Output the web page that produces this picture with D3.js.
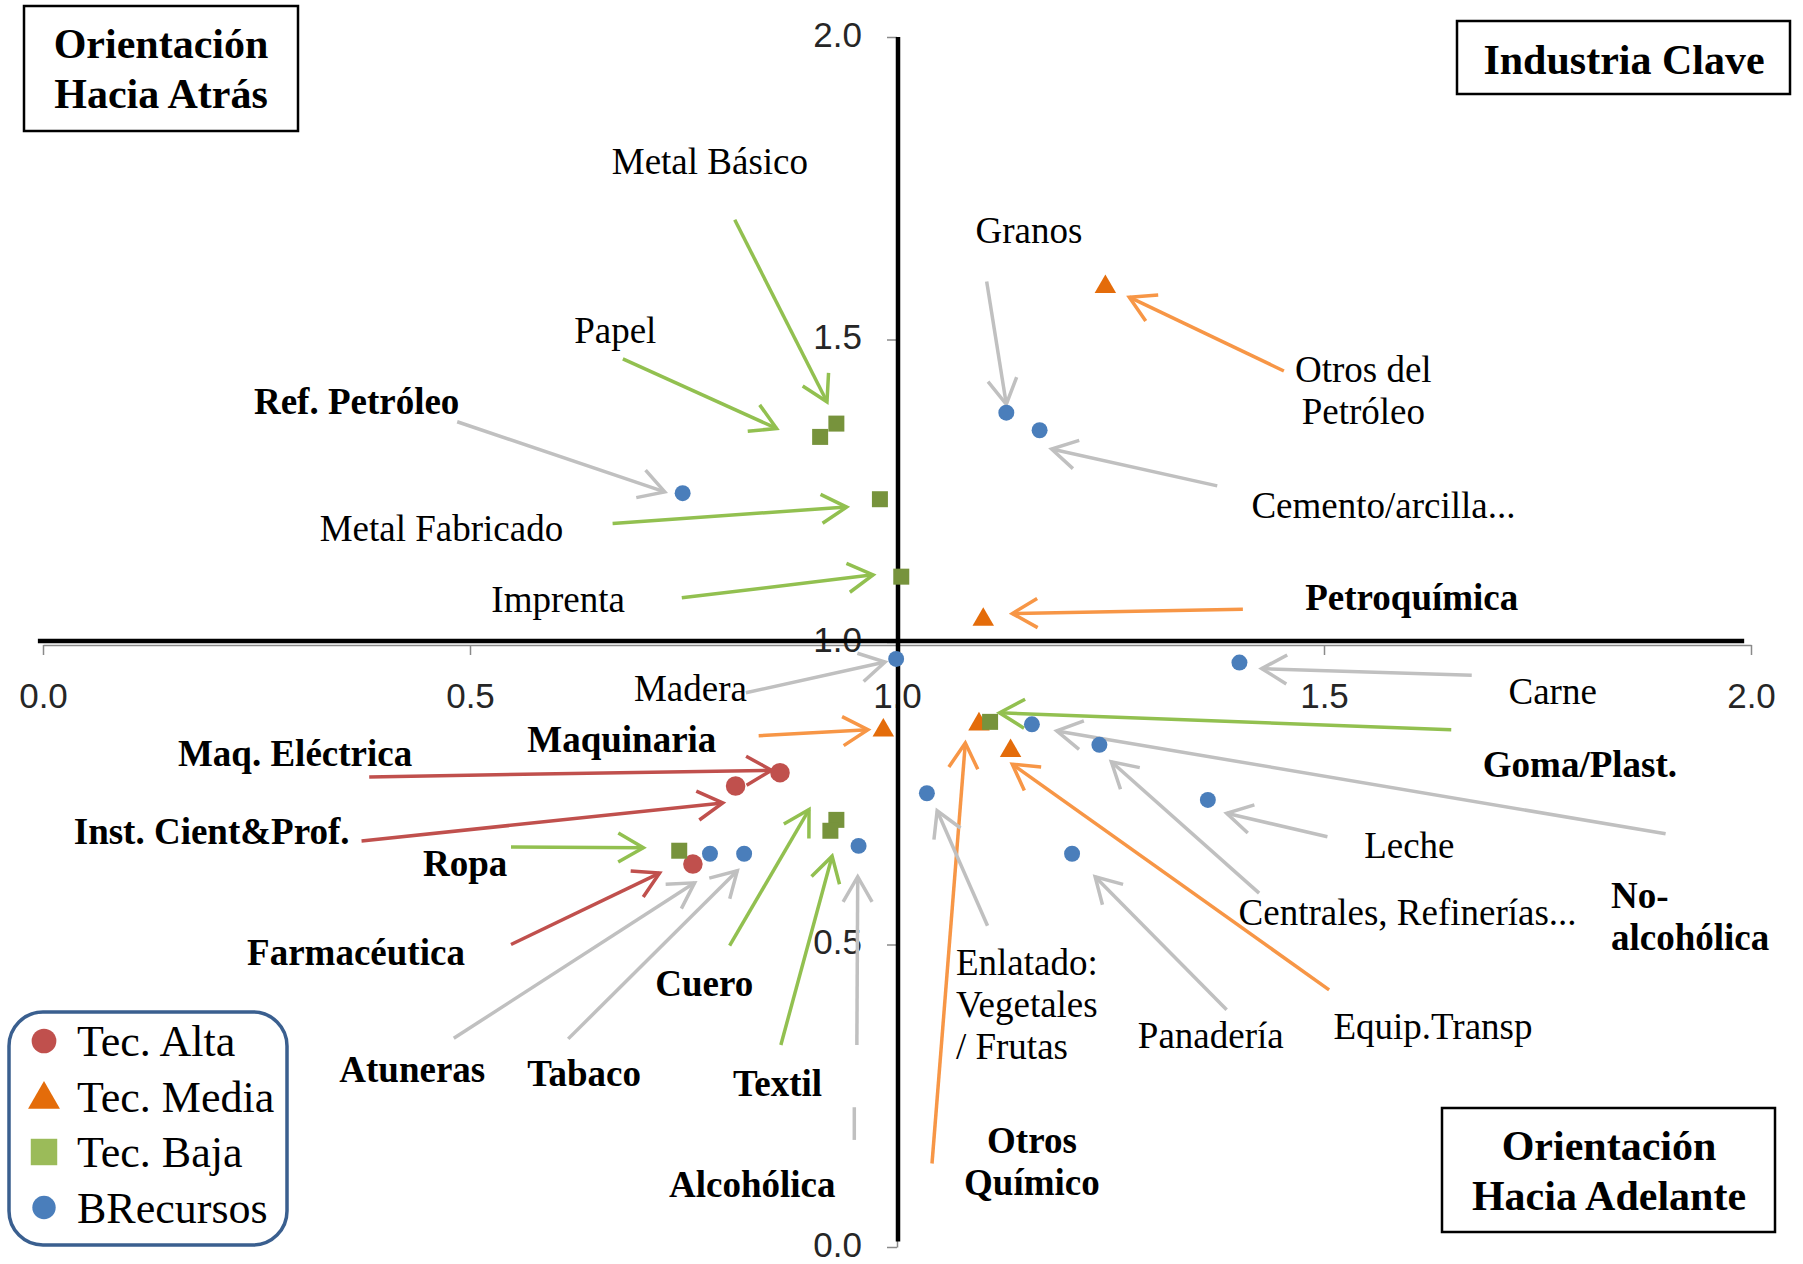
<!DOCTYPE html>
<html><head><meta charset="utf-8">
<script src="https://cdn.jsdelivr.net/npm/d3@7"></script>
<style>
body{margin:0;background:#fff}
svg text{font-family:'Liberation Serif','Times New Roman',serif;fill:#000}
</style>
</head><body>
<svg id="chart" width="1803" height="1264"></svg>
<script>
// ---------------- DATA ----------------
const categories = ["Tec. Alta", "Tec. Media", "Tec. Baja", "BRecursos"];

const sectors = [
  "Maq. Eléctrica", "Inst. Cient&Prof.", "Farmacéutica",
  "Otros del Petróleo", "Petroquímica", "Maquinaria", "Otros Químico", "Equip.Transp",
  "Metal Básico", "Papel", "Metal Fabricado", "Imprenta", "Goma/Plast.", "Ropa", "Cuero", "Textil",
  "Granos", "Cemento/arcilla...", "Ref. Petróleo", "Madera", "Carne", "No-alcohólica",
  "Centrales, Refinerías...", "Enlatado", "Leche", "Alcohólica", "Atuneras", "Tabaco", "Panadería"
];
// horizontal index (forward orientation)
const forwardIdx = [
  0.863, 0.811, 0.761,
  1.244, 1.101, 0.984, 1.096, 1.133,
  0.929, 0.910, 0.980, 1.005, 1.109, 0.745, 0.929, 0.922,
  1.128, 1.167, 0.749, 0.999, 1.401, 1.158,
  1.237, 1.035, 1.364, 0.955, 0.781, 0.821, 1.205
];
// vertical index (backward orientation)
const backwardIdx = [
  0.784, 0.762, 0.633,
  1.587, 1.037, 0.854, 0.864, 0.820,
  1.361, 1.339, 1.236, 1.108, 0.868, 0.655, 0.706, 0.688,
  1.379, 1.350, 1.246, 0.972, 0.966, 0.864,
  0.830, 0.750, 0.739, 0.663, 0.650, 0.650, 0.650
];
const techLevel = [
  "Tec. Alta", "Tec. Alta", "Tec. Alta",
  "Tec. Media", "Tec. Media", "Tec. Media", "Tec. Media", "Tec. Media",
  "Tec. Baja", "Tec. Baja", "Tec. Baja", "Tec. Baja", "Tec. Baja", "Tec. Baja", "Tec. Baja", "Tec. Baja",
  "BRecursos", "BRecursos", "BRecursos", "BRecursos", "BRecursos", "BRecursos",
  "BRecursos", "BRecursos", "BRecursos", "BRecursos", "BRecursos", "BRecursos", "BRecursos"
];
const xTicks = [0, 0.5, 1.0, 1.5, 2.0];
const yTicks = [0, 0.5, 1.0, 1.5, 2.0];
const quadrantTitles = [["Orientación", "Hacia Atrás"], ["Industria Clave"], ["Orientación", "Hacia Adelante"]];

// ---------------- ANNOTATION LAYOUT (data units) ----------------
// lines, label anchor [x,y], text-anchor, bold, arrow tail [x,y], arrow tip [x,y]
const annot = {
  "Maq. Eléctrica":      {lines:["Maq. Eléctrica"], at:[0.158,0.795], a:"start", b:1, tail:[0.382,0.777], tip:[0.853,0.788]},
  "Inst. Cient&Prof.":   {lines:["Inst. Cient&Prof."], at:[0.036,0.666], a:"start", b:1, tail:[0.373,0.671], tip:[0.796,0.734]},
  "Farmacéutica":        {lines:["Farmacéutica"], at:[0.239,0.466], a:"start", b:1, tail:[0.548,0.500], tip:[0.722,0.618]},
  "Otros del Petróleo":  {lines:["Otros del","Petróleo"], at:[1.546,1.430], a:"middle", b:0, tail:[1.453,1.448], tip:[1.272,1.570]},
  "Petroquímica":        {lines:["Petroquímica"], at:[1.478,1.053], a:"start", b:1, tail:[1.405,1.054], tip:[1.135,1.047]},
  "Maquinaria":          {lines:["Maquinaria"], at:[0.567,0.818], a:"start", b:1, tail:[0.838,0.845], tip:[0.966,0.855]},
  "Otros Químico":       {lines:["Otros","Químico"], at:[1.158,0.156], a:"middle", b:1, tail:[1.041,0.138], tip:[1.080,0.833]},
  "Equip.Transp":        {lines:["Equip.Transp"], at:[1.511,0.344], a:"start", b:0, tail:[1.506,0.425], tip:[1.135,0.798]},
  "Metal Básico":        {lines:["Metal Básico"], at:[0.666,1.774], a:"start", b:0, tail:[0.810,1.698], tip:[0.918,1.397]},
  "Papel":               {lines:["Papel"], at:[0.622,1.494], a:"start", b:0, tail:[0.679,1.468], tip:[0.859,1.353]},
  "Metal Fabricado":     {lines:["Metal Fabricado"], at:[0.324,1.167], a:"start", b:0, tail:[0.667,1.196], tip:[0.941,1.223]},
  "Imprenta":            {lines:["Imprenta"], at:[0.525,1.050], a:"start", b:0, tail:[0.748,1.073], tip:[0.972,1.111]},
  "Goma/Plast.":         {lines:["Goma/Plast."], at:[1.686,0.777], a:"start", b:1, tail:[1.649,0.855], tip:[1.120,0.883]},
  "Ropa":                {lines:["Ropa"], at:[0.445,0.614], a:"start", b:1, tail:[0.548,0.661], tip:[0.703,0.660]},
  "Cuero":               {lines:["Cuero"], at:[0.717,0.415], a:"start", b:1, tail:[0.804,0.498], tip:[0.897,0.723]},
  "Textil":              {lines:["Textil"], at:[0.808,0.250], a:"start", b:1, tail:[0.864,0.334], tip:[0.924,0.646]},
  "Granos":              {lines:["Granos"], at:[1.092,1.660], a:"start", b:0, tail:[1.105,1.596], tip:[1.128,1.393]},
  "Cemento/arcilla...":  {lines:["Cemento/arcilla..."], at:[1.415,1.205], a:"start", b:0, tail:[1.375,1.258], tip:[1.181,1.319]},
  "Ref. Petróleo":       {lines:["Ref. Petróleo"], at:[0.247,1.377], a:"start", b:1, tail:[0.485,1.364], tip:[0.728,1.248]},
  "Madera":              {lines:["Madera"], at:[0.692,0.902], a:"start", b:0, tail:[0.823,0.916], tip:[0.986,0.967]},
  "Carne":               {lines:["Carne"], at:[1.716,0.898], a:"start", b:0, tail:[1.673,0.945], tip:[1.427,0.956]},
  "No-alcohólica":       {lines:["No-","alcohólica"], at:[1.836,0.561], a:"start", b:1, tail:[1.900,0.683], tip:[1.187,0.853]},
  "Centrales, Refinerías...": {lines:["Centrales, Refinerías..."], at:[1.400,0.532], a:"start", b:0, tail:[1.424,0.585], tip:[1.251,0.802]},
  "Enlatado":            {lines:["Enlatado:","Vegetales","/ Frutas"], at:[1.069,0.450], a:"start", b:0, tail:[1.106,0.531], tip:[1.047,0.721]},
  "Leche":               {lines:["Leche"], at:[1.547,0.643], a:"start", b:0, tail:[1.504,0.678], tip:[1.386,0.717]},
  "Alcohólica":          {lines:["Alcohólica"], at:[0.733,0.083], a:"start", b:1, tail:[0.953,0.334], tip:[0.954,0.612], stub:[[0.950,0.231],[0.950,0.177]]},
  "Atuneras":            {lines:["Atuneras"], at:[0.347,0.273], a:"start", b:1, tail:[0.481,0.345], tip:[0.763,0.602]},
  "Tabaco":              {lines:["Tabaco"], at:[0.567,0.266], a:"start", b:1, tail:[0.615,0.344], tip:[0.813,0.622]},
  "Panadería":           {lines:["Panadería"], at:[1.282,0.329], a:"start", b:0, tail:[1.386,0.392], tip:[1.232,0.612]}
};

// ---------------- STYLE ----------------
const markerColor = {"Tec. Alta":"#c0504d","Tec. Media":"#e46c0a","Tec. Baja":"#77933c","BRecursos":"#4a7ebb"};
const legendColor = {"Tec. Alta":"#c0504d","Tec. Media":"#e46c0a","Tec. Baja":"#9bbb59","BRecursos":"#4a7ebb"};
const arrowColor  = {"Tec. Alta":"#c0504d","Tec. Media":"#f79646","Tec. Baja":"#92c050","BRecursos":"#c0c0c0"};
const markerShape = {"Tec. Alta":d3.symbolCircle,"Tec. Media":d3.symbolTriangle,"Tec. Baja":d3.symbolSquare,"BRecursos":d3.symbolCircle};
const markerSize  = {"Tec. Alta":300,"Tec. Media":200,"Tec. Baja":256,"BRecursos":200};
const legendSize  = {"Tec. Alta":480,"Tec. Media":440,"Tec. Baja":700,"BRecursos":430};

// ---------------- SCALES ----------------
const svg = d3.select("#chart");
const x = d3.scaleLinear().domain([0, 2]).range([43, 1751]);
const y = d3.scaleLinear().domain([0, 2]).range([1247, 37]);

// gray axes (Excel axes crossing at 1.0)
const gx = svg.append("g").attr("transform", `translate(0,${y(1) + 3})`)
  .call(d3.axisBottom(x).tickValues(xTicks).tickFormat(d3.format(".1f")).tickSize(10).tickSizeOuter(0).tickPadding(28));
const gy = svg.append("g").attr("transform", `translate(${x(1)},0)`)
  .call(d3.axisLeft(y).tickValues(yTicks).tickFormat(d3.format(".1f")).tickSize(10).tickSizeOuter(0).tickPadding(25));
[gx, gy].forEach(g => {
  g.select(".domain").attr("stroke", "#8a8a8a").attr("stroke-width", 1.5);
  g.selectAll(".tick line").attr("stroke", "#8a8a8a").attr("stroke-width", 1.5);
  g.selectAll(".tick text").style("font-family", "'Liberation Sans', Arial, sans-serif")
    .style("font-size", "35px").style("fill", "#262626");
});
gy.selectAll(".tick text").attr("dy", "0.26em");

// thick black quadrant lines
svg.append("line").attr("x1", x(-0.006)).attr("x2", x(1.992)).attr("y1", y(1) - 1).attr("y2", y(1) - 1)
  .attr("stroke", "#000").attr("stroke-width", 4.5);
svg.append("line").attr("x1", x(1) + 1).attr("x2", x(1) + 1).attr("y1", y(2)).attr("y2", y(0.009))
  .attr("stroke", "#000").attr("stroke-width", 4.5);

// ---------------- ARROWS ----------------
const data = sectors.map((s, i) => ({name: s, fx: forwardIdx[i], bx: backwardIdx[i], cat: techLevel[i]}));
const gA = svg.append("g").attr("fill", "none").attr("stroke-width", 3.5);
const headLen = 29, headAng = Math.PI / 6;
data.forEach(d => {
  const a = annot[d.name];
  const tx = x(a.tail[0]), ty = y(a.tail[1]), hx = x(a.tip[0]), hy = y(a.tip[1]);
  const ang = Math.atan2(hy - ty, hx - tx);
  const col = arrowColor[d.cat];
  gA.append("line").attr("x1", tx).attr("y1", ty).attr("x2", hx).attr("y2", hy).attr("stroke", col);
  const p1 = [hx - headLen * Math.cos(ang - headAng), hy - headLen * Math.sin(ang - headAng)];
  const p2 = [hx - headLen * Math.cos(ang + headAng), hy - headLen * Math.sin(ang + headAng)];
  gA.append("path").attr("d", `M${p1[0]},${p1[1]}L${hx},${hy}L${p2[0]},${p2[1]}`)
    .attr("stroke", col).attr("stroke-linejoin", "miter");
  if (a.stub) {
    gA.append("line").attr("x1", x(a.stub[0][0])).attr("y1", y(a.stub[0][1]))
      .attr("x2", x(a.stub[1][0])).attr("y2", y(a.stub[1][1])).attr("stroke", col);
  }
});

// ---------------- MARKERS ----------------
svg.append("g").selectAll("path").data(data).join("path")
  .attr("transform", d => `translate(${x(d.fx)},${y(d.bx)})`)
  .attr("d", d => d3.symbol().type(markerShape[d.cat]).size(markerSize[d.cat])())
  .attr("fill", d => markerColor[d.cat]);

// ---------------- LABELS ----------------
const gL = svg.append("g");
data.forEach(d => {
  const a = annot[d.name];
  const t = gL.append("text").attr("x", x(a.at[0])).attr("y", y(a.at[1]))
    .attr("text-anchor", a.a).style("font-size", "37px").style("font-weight", a.b ? "bold" : "normal");
  a.lines.forEach((ln, k) => {
    t.append("tspan").attr("x", x(a.at[0])).attr("dy", k === 0 ? 0 : 42).text(ln);
  });
});

// ---------------- QUADRANT BOXES ----------------
const boxes = [
  {x0: 24, y0: 6, x1: 298, y1: 131, cx: 161, base: 58},
  {x0: 1457, y0: 21, x1: 1790, y1: 94, cx: 1624, base: 74},
  {x0: 1442, y0: 1108, x1: 1775, y1: 1232, cx: 1609, base: 1160}
];
boxes.forEach((b, i) => {
  svg.append("rect").attr("x", b.x0).attr("y", b.y0).attr("width", b.x1 - b.x0).attr("height", b.y1 - b.y0)
    .attr("fill", "#fff").attr("stroke", "#000").attr("stroke-width", 2.5);
  const t = svg.append("text").attr("text-anchor", "middle").style("font-size", "42px").style("font-weight", "bold");
  quadrantTitles[i].forEach((ln, k) => {
    t.append("tspan").attr("x", b.cx).attr("y", b.base + k * 50).text(ln);
  });
});

// ---------------- LEGEND ----------------
const lg = svg.append("g");
lg.append("rect").attr("x", 9).attr("y", 1012).attr("width", 278).attr("height", 233).attr("rx", 34)
  .attr("fill", "#fff").attr("stroke", "#3a5f8f").attr("stroke-width", 3.5);
categories.forEach((c, i) => {
  const cy = 1041 + i * 55.5;
  lg.append("path").attr("transform", `translate(44,${cy + (c === "Tec. Media" ? 3 : 0)})`)
    .attr("d", d3.symbol().type(markerShape[c]).size(legendSize[c])()).attr("fill", legendColor[c]);
  lg.append("text").attr("x", 77).attr("y", cy + 15).style("font-size", "44px").text(c);
});
</script>
</body></html>
